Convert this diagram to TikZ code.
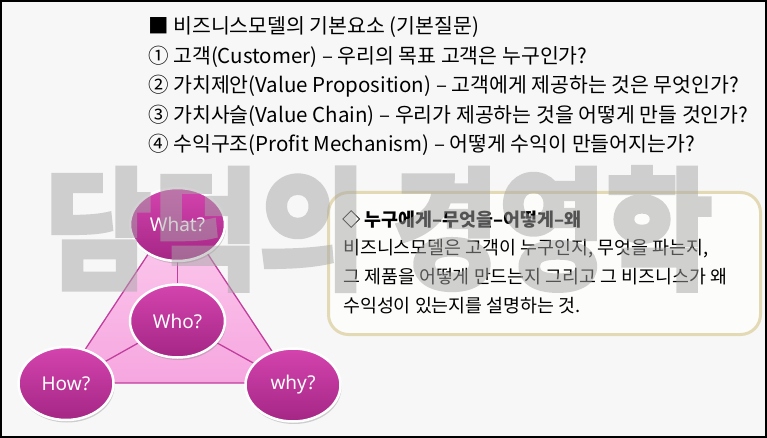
\documentclass[tikz,border=0pt]{standalone}
\usepackage{fontspec}
\setmainfont{Noto Sans CJK KR}
\newfontfamily\latinfont{Noto Sans}
\IfFontExistsTF{Noto Sans CJK KR Black}
  {\newfontfamily\wmfont[FakeBold=2.5]{Noto Sans CJK KR Black}}
  {\newfontfamily\wmfont[UprightFont=*Bold,FakeBold=2.5]{Noto Sans CJK KR}}
\usetikzlibrary{shapes.geometric,shadows}
\definecolor{pagebg}{HTML}{F7F7F7}
\definecolor{bubtop}{HTML}{D444AE}
\definecolor{bubbot}{HTML}{A42685}
\definecolor{tritop}{HTML}{FCCDEF}
\definecolor{tribot}{HTML}{F6A6DF}
\definecolor{triline}{HTML}{C23E9E}
\definecolor{boxline}{HTML}{E3D9B4}
\definecolor{boxfill}{HTML}{FCFCFA}
\definecolor{wmgray}{HTML}{A6A6A6}
\pgfdeclarelayer{back}
\pgfdeclarelayer{front}
\pgfsetlayers{back,main,front}
\begin{document}
\begin{tikzpicture}[x=1pt,y=-1pt]
    \tikzset{
      question/.style={anchor=base west,inner sep=0pt,font=\fontsize{20.5}{20.5}\selectfont},
      boxtext/.style={anchor=base west,inner sep=0pt,font=\fontsize{18.4}{18.4}\selectfont},
      bubble/.style={ellipse,draw=white,line width=2.5pt,top color=bubtop,bottom color=bubbot,
        minimum width=95pt,minimum height=73pt,inner sep=0pt,text=white,
        font=\latinfont\fontsize{19}{19}\selectfont,
        drop shadow={shadow xshift=1pt,shadow yshift=-2.5pt,opacity=0.35}},
      spoke/.style={draw=triline,line width=1.3pt},
      infobox/.style={draw=boxline,fill=boxfill,line width=3pt,rounded corners=20pt,
        minimum width=432pt,minimum height=142pt,inner sep=0pt},
      watermark/.style={text=wmgray,xscale=0.88,inner sep=0pt,
        font=\wmfont\fontsize{132}{132}\selectfont}};
    \begin{pgfonlayer}{back}
      \fill[pagebg] (0,0) rectangle (767,438);
    \end{pgfonlayer}
    % questions
    \node[question] (q0) at (148,34) {■ 비즈니스모델의 기본요소 (기본질문)};
    \node[question] (q1) at (148,63.5) {① 고객(Customer) – 우리의 목표 고객은 누구인가?};
    \node[question] (q2) at (148,93) {② 가치제안(Value Proposition) – 고객에게 제공하는 것은 무엇인가?};
    \node[question] (q3) at (148,122.5) {③ 가치사슬(Value Chain) – 우리가 제공하는 것을 어떻게 만들 것인가?};
    \node[question] (q4) at (148,152) {④ 수익구조(Profit Mechanism) – 어떻게 수익이 만들어지는가?};
    % summary box
    \node[infobox] (box) at (544.5,263.5) {};
    \node[boxtext,font=\fontsize{18.4}{18.4}\selectfont\bfseries] (t0) at (342,226) {◇ 누구에게–무엇을–어떻게–왜};
    \node[boxtext] (t1) at (343,254) {비즈니스모델은 고객이 누구인지, 무엇을 파는지,};
    \node[boxtext] (t2) at (343,283) {그 제품을 어떻게 만드는지 그리고 그 비즈니스가 왜};
    \node[boxtext] (t3) at (343,312) {수익성이 있는지를 설명하는 것.};
    % triangle of questions
    \coordinate (apex) at (178,209);
    \coordinate (left) at (63,383);
    \coordinate (right) at (293,383);
    \node[bubble] (what) at (177.5,224.5) {What?};
    \node[bubble] (who) at (177.5,321) {Who?};
    \node[bubble] (how) at (66,383.5) {How?};
    \node[bubble] (why) at (293,385) {why?};
    \begin{pgfonlayer}{back}
      \draw[spoke,top color=tritop,bottom color=tribot,line join=round] (apex) -- (left) -- (right) -- cycle;
      \draw[spoke] (who) -- (what);
      \draw[spoke] (who) -- (how);
      \draw[spoke] (who) -- (why);
    \end{pgfonlayer}
    \begin{pgfonlayer}{front}
      \begin{scope}[transparency group,opacity=0.5]
        \node[watermark] (wm) at (379,229) {담덕의 경영학};
      \end{scope}
      \draw[black,line width=2pt] (1,1) rectangle (766,437);
    \end{pgfonlayer}
  \end{tikzpicture}
\end{document}
